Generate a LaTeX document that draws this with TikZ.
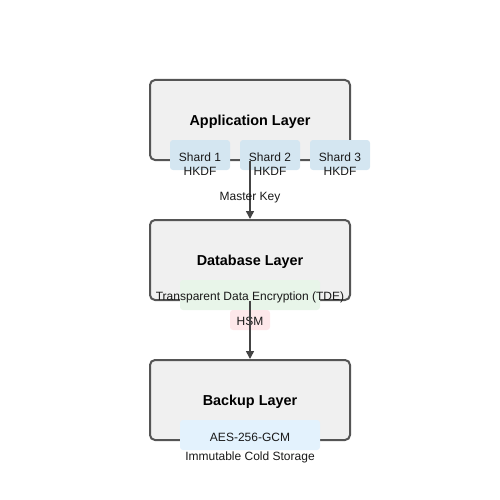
\documentclass[tikz,border=0pt]{standalone}
\usepackage{fontspec}
\setmainfont{Liberation Sans}
\usetikzlibrary{arrows.meta, positioning}
\definecolor{layerfill}{HTML}{F0F0F0}
\definecolor{layerline}{HTML}{555555}
\definecolor{shardfill}{HTML}{D4E6F1}
\definecolor{tdefill}{HTML}{E8F5E9}
\definecolor{hsmfill}{HTML}{FDE8EA}
\definecolor{aesfill}{HTML}{E3F2FD}
\definecolor{arrowline}{HTML}{444444}
\def\sm{\fontsize{12}{14}\selectfont}
\tikzset{
  layer/.style={draw=layerline, fill=layerfill, line width=2pt, rounded corners=5pt,
    minimum width=200pt, minimum height=80pt, inner sep=0pt, text depth=0pt,
    font=\fontsize{14.4}{16}\selectfont\bfseries},
  tag/.style={draw=none, rounded corners=3pt, inner sep=0pt},
  txt/.style={inner sep=0pt, font=\sm, align=center, text=black!90},
  flow/.style={draw=arrowline, line width=1.5pt, -{Triangle[width=8pt,length=8pt]}}
}

\begin{document}
\begin{tikzpicture}[x=1pt, y=-1pt]
\useasboundingbox (0,0) rectangle (500,500);

% layers
\node[layer] (app) at (250,120) {Application Layer};
\node[layer] (db) at (250,260) {Database Layer};
\node[layer] (bak) at (250,400) {Backup Layer};

% key shards
\foreach \i/\x in {1/200, 2/270, 3/340}{
  \node[tag, fill=shardfill, minimum width=60pt, minimum height=30pt] (shard\i) at (\x,155) {};
  \node[txt] (shardtxt\i) at (\x,164.5) {Shard \i\\HKDF};
}

% database tags
\node[tag, fill=tdefill, minimum width=140pt, minimum height=30pt] (tde) at (250,295) {};
\node[txt] (tdetxt) at (250,297.5) {Transparent Data Encryption (TDE)};
\node[tag, fill=hsmfill, minimum width=40pt, minimum height=20pt] (hsm) at (250,320) {};
\node[txt] (hsmtxt) at (250,321.5) {HSM};

% backup tags
\node[tag, fill=aesfill, minimum width=140pt, minimum height=30pt] (aes) at (250,435) {};
\node[txt] (aestxt) at (250,437) {AES-256-GCM};
\node[txt] (cold) at (250,457.5) {Immutable Cold Storage};

% flows
\draw[flow] (app.south) -- (db.north);
\node[txt] (mkey) at (250,197.5) {Master Key};
\draw[flow] (db.south) -- (bak.north);
\end{tikzpicture}
\end{document}
